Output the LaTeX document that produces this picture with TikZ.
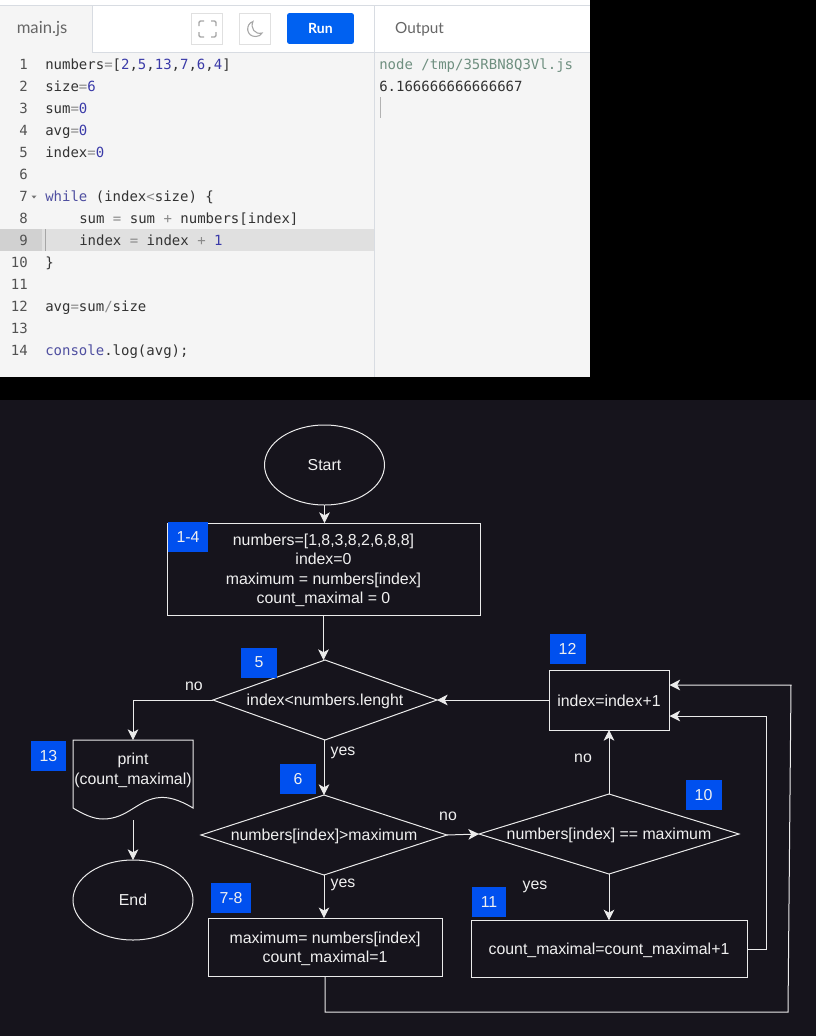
\documentclass[tikz,border=0pt]{standalone}
\usepackage{fontspec}
\setmainfont{Liberation Sans}
\newfontfamily\codefont{DejaVu Sans Mono}
\newfontfamily\uifont{Lato}
\usetikzlibrary{shapes.geometric,arrows.meta}
\definecolor{panel}{HTML}{F5F5F5}
\definecolor{rulegrey}{HTML}{D8DCE2}
\definecolor{flowbg}{HTML}{16141C}
\definecolor{badgeblue}{HTML}{0050EF}
\definecolor{numblue}{HTML}{3A3AA8}
\definecolor{keyblue}{HTML}{4F4FA0}
\definecolor{opgrey}{HTML}{8A8A8A}
\definecolor{codeink}{HTML}{333333}
\definecolor{cmdgreen}{HTML}{6F8F80}
\newcommand{\nm}[1]{\textcolor{numblue}{#1}}
\newcommand{\op}[1]{\textcolor{opgrey}{#1}}
\newcommand{\lowered}[1]{\raisebox{-0.9pt}[\height][\depth]{#1}}
\def\codesep{22}

\begin{document}
\begin{tikzpicture}[x=0.75pt,y=-0.75pt,>={Stealth[length=8pt,width=8pt,inset=2.2pt]}]
    \tikzstyle{shape base}=[draw=white!92!black,line width=0.75pt,inner sep=0pt,outer sep=0pt,text=white!94!black,align=center,font=\fontsize{11.9}{14.6}\selectfont]
    \tikzstyle{terminal}=[shape base,ellipse,minimum width=90pt,minimum height=60pt]
    \tikzstyle{process}=[shape base,rectangle]
    \tikzstyle{decision}=[shape base,diamond,shape aspect=3.6]
    \tikzstyle{badge}=[fill=badgeblue,text=white!94!black,inner sep=0pt,minimum height=22.5pt,font=\fontsize{11.9}{12}\selectfont]
    \tikzstyle{annot}=[text=white!94!black,font=\fontsize{11.9}{12}\selectfont]
    \tikzstyle{flow}=[draw=white!92!black,line width=0.75pt]
    \tikzstyle{code line}=[anchor=base west,inner sep=0pt,text=codeink,font=\codefont\fontsize{10.5}{12}\selectfont]
    \tikzstyle{line number}=[anchor=base east,inner sep=0pt,text=codeink!85,font=\codefont\fontsize{10.5}{12}\selectfont]

    \path[use as bounding box,fill=black] (0,0) rectangle (816,1036);

    % Editor panel
    \fill[panel] (0,0) rectangle (590,377);
    \fill[white] (0,0) rectangle (590,5);
    \fill[white] (92,5) rectangle (590,52);
    \fill[black!12] (0,229) rectangle (374,251);
    \fill[black!18] (0,229) rectangle (42,251);
    \draw[rulegrey] (0,5) -- (590,5);
    \draw[rulegrey] (92,5) -- (92,52) -- (590,52);
    \draw[rulegrey] (374,5) -- (374,377);
    \draw[black!35,line width=1pt] (45.5,229) -- (45.5,251);
    \draw[black!30] (380,97) -- (380,118);
    \fill[black!55] (31.5,195.5) -- (36.5,195.5) -- (34,198.5) -- cycle;

    \node[inner sep=0pt,text=black!60,font=\uifont\fontsize{12.5}{14}\selectfont] (tab) at (42,29) {main.js};
    \node[inner sep=0pt,text=black!60,font=\uifont\fontsize{11.5}{14}\selectfont] (output) at (419.5,29) {Output};
    \node[draw=black!12,rectangle,minimum width=23pt,minimum height=23pt,inner sep=0pt] (expand) at (207,29) {};
    \node[draw=black!12,rectangle,minimum width=23pt,minimum height=23pt,inner sep=0pt] (moon) at (255,29) {};
    \node[fill=badgeblue!90!cyan,rounded corners=1.5pt,minimum width=50pt,minimum height=23pt,inner sep=0pt,text=white,font=\uifont\bfseries\fontsize{10.5}{12}\selectfont] (run) at (320.5,28.5) {Run};

    % Screen icons
    \draw[black!35,line width=1pt,rounded corners=1pt]
        (199,26) -- (199,21) -- (204,21) (211,21) -- (216,21) -- (216,26)
        (216,32) -- (216,37) -- (211,37) (204,37) -- (199,37) -- (199,32);
    \draw[black!35,line width=0.8pt] (253,21.5) .. controls (245,24) and (246,37) .. (256,36.5)
        .. controls (259,36.5) and (261,35) .. (262,33) .. controls (255,35) and (250,28) .. (253,21.5) -- cycle;

    % Source listing
    \foreach \n / \x / \txt in {
        1/45/{numbers\op{=}[\nm{2},\nm{5},\nm{13},\nm{7},\nm{6},\nm{4}]},
        2/45/{size\op{=}\nm{6}},
        3/45/{sum\op{=}\nm{0}},
        4/45/{avg\op{=}\nm{0}},
        5/45/{index\op{=}\nm{0}},
        6/45/{},
        7/45/{\textcolor{keyblue}{while} (index\op{<}size) \{},
        8/79/{sum \op{=} sum \op{+} numbers[index]},
        9/79/{index \op{=} index \op{+} \nm{1}},
        10/45/{\}},
        11/45/{},
        12/45/{avg\op{=}sum\op{/}size},
        13/45/{},
        14/45/{\textcolor{keyblue}{console}.log(avg);}}
    {
        \node[line number] (N-\n) at (28,{69+\codesep*(\n-1)}) {\n};
        \node[code line] (L-\n) at (\x,{69+\codesep*(\n-1)}) {\txt};
    }
    \node[code line,text=cmdgreen] (cmd) at (379,69) {node /tmp/35RBN8Q3Vl.js};
    \node[code line] (result) at (379,91) {6.166666666666667};

    % Flowchart panel
    \fill[flowbg] (0,400) rectangle (816,1036);

    \node[terminal] (start) at (324.5,465) {Start};
    \node[process,minimum width=234.75pt,minimum height=69pt] (init) at (323.5,569) {\lowered{numbers=[1,8,3,8,2,6,8,8]}\\\lowered{index=0}\\\lowered{maximum = numbers[index]}\\\lowered{count\_maximal = 0}};
    \node[decision,minimum width=168pt,minimum height=60pt] (loop) at (325,700) {\lowered{index<numbers.lenght}};
    \node[decision,minimum width=184.5pt,minimum height=60pt] (greater) at (324,835) {\lowered{numbers[index]>maximum}};
    \node[decision,minimum width=195pt,minimum height=60pt] (equal) at (609,834) {\lowered{numbers[index] == maximum}};
    \node[process,minimum width=90pt,minimum height=45pt] (next) at (609,700) {\lowered{index=index+1}};
    \node[process,minimum width=207pt,minimum height=43pt] (count) at (609,949) {\lowered{count\_maximal=count\_maximal+1}};
    \node[process,minimum width=175.5pt,minimum height=44pt] (newmax) at (325,947.5) {\lowered{maximum= numbers[index]}\\\lowered{count\_maximal=1}};
    \node[terminal] (end) at (133,900) {End};

    % Output document with wavy base
    \node[minimum width=90pt,minimum height=60pt,inner sep=0pt,outer sep=0pt] (print) at (133,780) {};
    \node[process,draw=none] (printtext) at (133,769) {\lowered{print}\\\lowered{(count\_maximal)}};
    \draw[flow] (73,808) -- (print.north west) -- (print.north east) -- (193,808)
        .. controls (178,799) and (168,797) .. (160,797.5)
        .. controls (138,799) and (128,819) .. (103,819)
        .. controls (93,819) and (83,814) .. (73,808);

    % Step numbers
    \node[badge,minimum width=30pt] (b1) at (188,537) {1-4};
    \node[badge,minimum width=27pt] (b5) at (259,662.5) {5};
    \node[badge,minimum width=27pt] (b12) at (567.5,649) {12};
    \node[badge,minimum width=26pt] (b13) at (48.5,756) {13};
    \node[badge,minimum width=27pt] (b6) at (298,779) {6};
    \node[badge,minimum width=30pt] (b7) at (231,898) {7-8};
    \node[badge,minimum width=27pt] (b10) at (703.5,795) {10};
    \node[badge,minimum width=26pt] (b11) at (489,902) {11};

    % Branch labels
    \node[annot] (no1) at (194,686) {no};
    \node[annot] (yes1) at (343,753) {yes};
    \node[annot] (no2) at (448,816) {no};
    \node[annot] (yes2) at (343,885) {yes};
    \node[annot] (no3) at (583,758) {no};
    \node[annot] (yes3) at (535,887) {yes};

    % Connect the steps
    \coordinate (top in) at (669.5,685);
    \coordinate (low in) at (669.5,716);
    \coordinate (far right) at (791,685);
    \coordinate (far bottom) at (788,1012);
    \coordinate (near right) at (766,949);
    \coordinate (newmax foot) at (325,1012);
    \coordinate (loop left) at (133,700);

    \draw[flow,->] (start) -- (start|-init.north);
    \draw[flow,->] (init) -- (init|-loop.north);
    \draw[flow,->] (loop.west) -- (loop left) -- (print.north);
    \draw[flow,->] (loop.south-|greater) -- (greater.north);
    \draw[flow,->] (print.south) -- (end.north);
    \draw[flow,->] (greater.east) -- (equal.west);
    \draw[flow,->] (greater.south) -- (greater.south|-newmax.north);
    \draw[flow,->] (equal.north) -- (next.south);
    \draw[flow,->] (equal.south) -- (count.north);
    \draw[flow,->] (next.west) -- (loop.east);
    \draw[flow,->] (count.east) -- (near right) |- (low in);
    \draw[flow,->] (newmax.south) -- (newmax foot) -- (far bottom) -- (far right) -- (top in);
\end{tikzpicture}
\end{document}
